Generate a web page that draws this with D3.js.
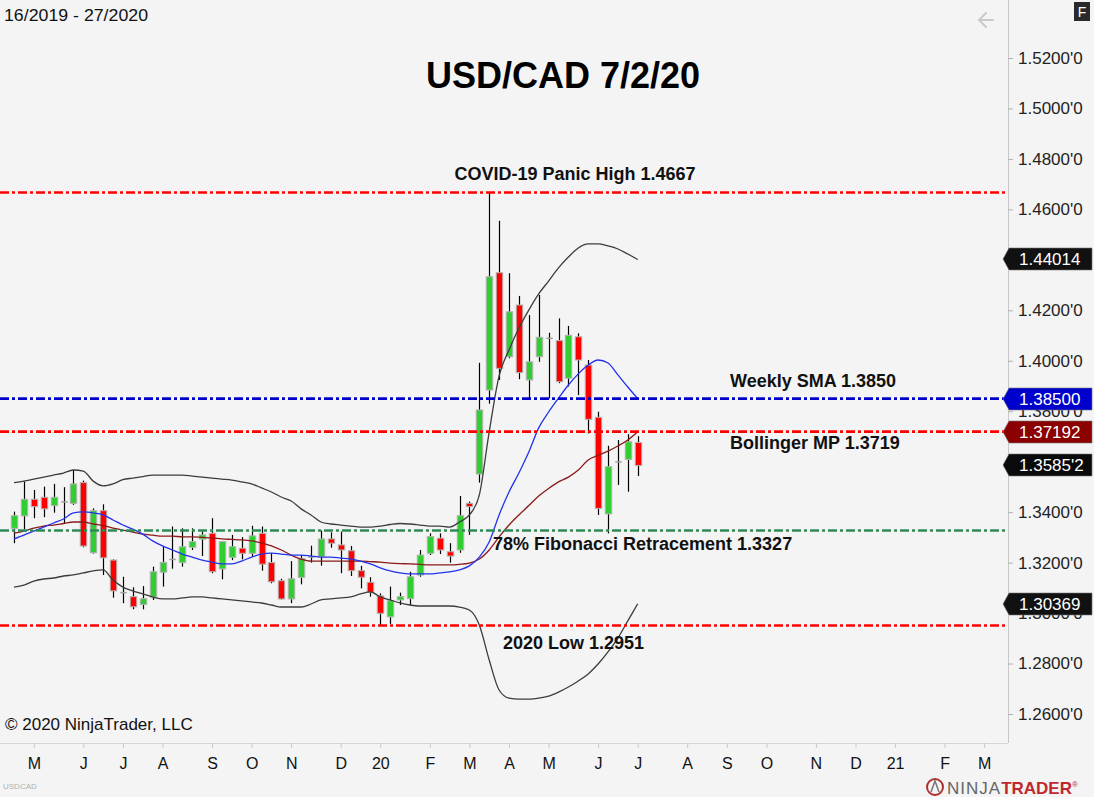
<!DOCTYPE html>
<html>
<head>
<meta charset="utf-8">
<script src="https://cdn.jsdelivr.net/npm/d3@7"></script>
<style>
  html, body { margin: 0; padding: 0; background: #f4f4f4; }
  svg { display: block; font-family: "Liberation Sans", Arial, sans-serif; }
</style>
</head>
<body>
<svg id="chart" width="1094" height="797"></svg>
<script>
// ---------- DATA (weekly USD/CAD, week 16/2019 - week 27/2020) ----------
const open  = [1.3336,1.3385,1.3451,1.3459,1.3426,1.3441,1.3435,1.3517,1.3239,1.3406,1.3210,1.3082,1.3065,1.3034,1.3063,1.3162,1.3212,1.3200,1.3261,1.3293,1.3316,1.3175,1.3221,1.3257,1.3237,1.3316,1.3200,1.3128,1.3056,1.3141,1.3221,1.3223,1.3294,1.3270,1.3247,1.3168,1.3122,1.3068,1.2985,1.3052,1.3057,1.3151,1.3237,1.3297,1.3243,1.3250,1.3435,1.3551,1.3884,1.4349,1.4016,1.4221,1.3924,1.4016,1.4090,1.4080,1.3931,1.4095,1.3983,1.3776,1.3393,1.3598,1.3609,1.3676];
const high  = [1.3402,1.3521,1.3488,1.3501,1.3512,1.3499,1.3567,1.3525,1.3415,1.3431,1.3213,1.3144,1.3102,1.3107,1.3184,1.3266,1.3343,1.3336,1.3336,1.3323,1.3376,1.3283,1.3310,1.3301,1.3346,1.3343,1.3237,1.3136,1.3206,1.3230,1.3267,1.3327,1.3320,1.3323,1.3266,1.3187,1.3142,1.3078,1.3105,1.3081,1.3164,1.3250,1.3316,1.3316,1.3277,1.3464,1.3442,1.3992,1.4667,1.4555,1.4347,1.4257,1.4181,1.4261,1.4111,1.4168,1.4138,1.4109,1.4003,1.3798,1.3663,1.3686,1.3709,1.3701];
const low   = [1.3277,1.3332,1.3376,1.3380,1.3398,1.3356,1.3429,1.3261,1.3236,1.3151,1.3061,1.3039,1.3015,1.3015,1.3052,1.3105,1.3176,1.3184,1.3250,1.3226,1.3158,1.3134,1.3210,1.3213,1.3223,1.3168,1.3118,1.3054,1.3039,1.3114,1.3200,1.3188,1.3259,1.3158,1.3147,1.3098,1.3065,1.2951,1.2957,1.3032,1.3032,1.3144,1.3230,1.3234,1.3200,1.3239,1.3310,1.3517,1.3830,1.3924,1.4010,1.3927,1.3851,1.3996,1.3851,1.3911,1.3898,1.3864,1.3712,1.3389,1.3316,1.3508,1.3481,1.3543];
const close = [1.3386,1.3451,1.3422,1.3413,1.3459,1.3440,1.3512,1.3266,1.3406,1.3219,1.3088,1.3080,1.3025,1.3057,1.3164,1.3201,1.3213,1.3263,1.3283,1.3310,1.3164,1.3283,1.3263,1.3237,1.3306,1.3194,1.3124,1.3056,1.3136,1.3217,1.3223,1.3294,1.3277,1.3250,1.3168,1.3142,1.3082,1.2999,1.3049,1.3065,1.3144,1.3230,1.3303,1.3250,1.3226,1.3386,1.3422,1.3805,1.4333,1.3970,1.4194,1.3953,1.3996,1.4093,1.4088,1.3917,1.4101,1.4003,1.3768,1.3415,1.3580,1.3600,1.3679,1.3585];

// Bollinger bands and weekly SMA
const bbUpper = [1.3517,1.3523,1.3531,1.3539,1.3547,1.3555,1.3567,1.3563,1.3523,1.3504,1.3512,1.3529,1.3535,1.3541,1.3547,1.3547,1.3547,1.3547,1.3543,1.3539,1.3535,1.3531,1.3527,1.3520,1.3512,1.3496,1.3480,1.3460,1.3444,1.3413,1.3389,1.3361,1.3353,1.3349,1.3345,1.3341,1.3341,1.3345,1.3351,1.3355,1.3353,1.3349,1.3345,1.3345,1.3341,1.3361,1.3389,1.3468,1.3718,1.3940,1.4043,1.4130,1.4201,1.4265,1.4316,1.4368,1.4411,1.4447,1.4463,1.4463,1.4455,1.4443,1.4423,1.4401];
const bbMid   = [1.3317,1.3325,1.3337,1.3345,1.3349,1.3355,1.3361,1.3361,1.3353,1.3347,1.3337,1.3329,1.3321,1.3313,1.3309,1.3305,1.3305,1.3302,1.3302,1.3300,1.3298,1.3294,1.3292,1.3290,1.3286,1.3278,1.3266,1.3250,1.3230,1.3214,1.3206,1.3206,1.3206,1.3206,1.3206,1.3206,1.3204,1.3202,1.3198,1.3196,1.3195,1.3193,1.3191,1.3191,1.3191,1.3193,1.3198,1.3214,1.3250,1.3302,1.3349,1.3389,1.3426,1.3464,1.3494,1.3520,1.3539,1.3567,1.3607,1.3625,1.3642,1.3662,1.3686,1.3719];
const bbLower = [1.3103,1.3111,1.3127,1.3135,1.3139,1.3147,1.3151,1.3159,1.3167,1.3171,1.3131,1.3103,1.3088,1.3076,1.3064,1.3056,1.3056,1.3060,1.3064,1.3064,1.3060,1.3056,1.3052,1.3048,1.3044,1.3040,1.3032,1.3024,1.3024,1.3024,1.3036,1.3052,1.3056,1.3060,1.3064,1.3076,1.3084,1.3064,1.3052,1.3040,1.3032,1.3028,1.3028,1.3028,1.3028,1.3024,1.3012,1.2953,1.2814,1.2695,1.2663,1.2659,1.2659,1.2663,1.2671,1.2687,1.2707,1.2731,1.2759,1.2798,1.2846,1.2901,1.2969,1.3037];
const sma     = [1.3294,1.3309,1.3325,1.3341,1.3357,1.3373,1.3397,1.3401,1.3397,1.3389,1.3369,1.3349,1.3333,1.3313,1.3286,1.3266,1.3250,1.3234,1.3222,1.3210,1.3202,1.3195,1.3195,1.3206,1.3222,1.3234,1.3238,1.3234,1.3230,1.3230,1.3226,1.3222,1.3222,1.3218,1.3214,1.3206,1.3195,1.3179,1.3167,1.3159,1.3155,1.3155,1.3155,1.3159,1.3163,1.3171,1.3187,1.3222,1.3282,1.3389,1.3480,1.3555,1.3638,1.3734,1.3797,1.3852,1.3904,1.3948,1.3983,1.4003,1.3991,1.3944,1.3896,1.3850];

// Horizontal annotation levels
const levelValues = [1.4667, 1.3850, 1.3719, 1.3327, 1.2951];
const levelNames  = ["COVID-19 Panic High 1.4667", "Weekly SMA 1.3850", "Bollinger MP 1.3719", "78% Fibonacci Retracement 1.3327", "2020 Low 1.2951"];
const levelColors = ["#ff0000", "#0000cd", "#ff0000", "#2e8b57", "#ff0000"];

// Axis ticks (labels of 1.44 and 1.36 are fully covered by price tags in the original)
const yTickValues = [1.26,1.28,1.30,1.32,1.34,1.36,1.38,1.40,1.42,1.44,1.46,1.48,1.50,1.52];
const yHiddenLabels = [1.44, 1.36];
const monthLabels = ["M","J","J","A","S","O","N","D","20","F","M","A","M","J","J","A","S","O","N","D","21","F","M"];

// Right-side price tags
const tagValues = [1.44014, 1.38500, 1.37192, 1.35852, 1.30369];
const tagLabels = ["1.44014", "1.38500", "1.37192", "1.3585'2", "1.30369"];
const tagColors = ["#111111", "#0000cd", "#8b0000", "#0a0a0a", "#111111"];

// ---------- DRAW ----------
const svg = d3.select("#chart");
const W = 1094, H = 797;
const plotRight = 1008, plotBottom = 743;

svg.append("rect").attr("width", W).attr("height", H).attr("fill", "#f4f4f4");

const firstWeek = new Date(2019, 3, 19);
const lastWeek = new Date(2020, 6, 3);
const dates = open.map((_, i) => d3.timeDay.offset(firstWeek, 7 * i));

const x = d3.scaleTime().domain([firstWeek, lastWeek]).range([14, 637.7]);
const y = d3.scaleLinear().domain([1.26, 1.52]).range([714, 58]);

// axes frame
svg.append("line").attr("x1", plotRight + 0.5).attr("x2", plotRight + 0.5)
  .attr("y1", 0).attr("y2", plotBottom).attr("stroke", "#c8c8c8");
svg.append("line").attr("x1", 0).attr("x2", plotRight).attr("y1", plotBottom + 0.5).attr("y2", plotBottom + 0.5)
  .attr("stroke", "#d6d6d6");

// Y axis
const yAxis = d3.axisRight(y).tickValues(yTickValues).tickSize(5).tickPadding(5)
  .tickFormat(v => yHiddenLabels.some(h => Math.abs(h - v) < 1e-9) ? "" : d3.format(".4f")(v) + "'0");
const gy = svg.append("g").attr("transform", `translate(${plotRight},0)`).call(yAxis);
gy.select(".domain").remove();
gy.selectAll(".tick line").attr("stroke", "#b0b0b0");
gy.selectAll(".tick text").attr("fill", "#222").attr("font-size", 17)
  .attr("font-family", "'Liberation Sans', Arial, sans-serif");

// X axis (month ticks at first weekly bar of each month)
const monthStarts = d3.timeMonth.range(new Date(2019, 4, 1), new Date(2021, 3, 1));
const tickDates = monthStarts.map(d => d3.timeFriday.ceil(d));
const xAxis = d3.axisBottom(x).tickValues(tickDates).tickSize(5).tickPadding(10)
  .tickFormat((d, i) => monthLabels[i]);
const gx = svg.append("g").attr("transform", `translate(0,${plotBottom})`).call(xAxis);
gx.select(".domain").remove();
gx.selectAll(".tick line").attr("stroke", "#c8c8c8");
gx.selectAll(".tick text").attr("fill", "#111").attr("font-size", 16)
  .attr("font-family", "'Liberation Sans', Arial, sans-serif");

// Candles
const bodyW = 6.5;
const cg = svg.append("g");
open.forEach((o, i) => {
  const c = close[i];
  const cx = Math.round(x(dates[i])) + 0.5;
  cg.append("line").attr("x1", cx).attr("x2", cx)
    .attr("y1", y(high[i])).attr("y2", y(low[i]))
    .attr("stroke", "#000").attr("stroke-width", 1.2);
  const top = y(Math.max(o, c)), bot = y(Math.min(o, c));
  if (bot - top < 1.5) {
    cg.append("line").attr("x1", cx - bodyW / 2).attr("x2", cx + bodyW / 2)
      .attr("y1", (top + bot) / 2).attr("y2", (top + bot) / 2)
      .attr("stroke", "#a0a0a0").attr("stroke-width", 1.5);
  } else {
    cg.append("rect").attr("x", cx - bodyW / 2).attr("y", top)
      .attr("width", bodyW).attr("height", bot - top)
      .attr("fill", c >= o ? "#32cd32" : "#ff0000")
      .attr("stroke", "#b4b4b4").attr("stroke-width", 1);
  }
});

// Indicator lines
const line = arr => d3.line().x((d, i) => x(dates[i])).y(d => y(d)).curve(d3.curveMonotoneX)(arr);
svg.append("path").attr("d", line(bbUpper)).attr("fill", "none").attr("stroke", "#3c3c3c").attr("stroke-width", 1.3);
svg.append("path").attr("d", line(bbLower)).attr("fill", "none").attr("stroke", "#3c3c3c").attr("stroke-width", 1.3);
svg.append("path").attr("d", line(bbMid)).attr("fill", "none").attr("stroke", "#8b1a1a").attr("stroke-width", 1.3);
svg.append("path").attr("d", line(sma)).attr("fill", "none").attr("stroke", "#2233ee").attr("stroke-width", 1.3);

// Horizontal levels
levelValues.forEach((v, i) => {
  svg.append("line").attr("x1", 0).attr("x2", plotRight)
    .attr("y1", y(v)).attr("y2", y(v))
    .attr("stroke", levelColors[i]).attr("stroke-width", 2.6)
    .attr("stroke-dasharray", "9,3,3,3");
});

// Level labels
const labelPos = [
  { x: 575, y: 180, anchor: "middle" },
  { x: 730, y: 387, anchor: "start" },
  { x: 730, y: 449, anchor: "start" },
  { x: 493, y: 550, anchor: "start" },
  { x: 503, y: 649, anchor: "start" }
];
levelNames.forEach((t, i) => {
  svg.append("text").attr("x", labelPos[i].x).attr("y", labelPos[i].y)
    .attr("text-anchor", labelPos[i].anchor)
    .attr("font-size", 18).attr("font-weight", "bold").attr("fill", "#111").text(t);
});

// Title
svg.append("text").attr("x", 563).attr("y", 88).attr("text-anchor", "middle")
  .attr("font-size", 36).attr("font-weight", "bold").attr("fill", "#000").text("USD/CAD 7/2/20");

// Price tags
tagValues.forEach((v, i) => {
  const cy = Math.round(y(v));
  const h = 22;
  const p = `M1003,${cy} L1009,${cy - h / 2} L1092,${cy - h / 2} L1092,${cy + h / 2} L1009,${cy + h / 2} Z`;
  svg.append("path").attr("d", p).attr("fill", tagColors[i]).attr("stroke", "#777").attr("stroke-width", 0.6);
  svg.append("text").attr("x", 1019).attr("y", cy + 6).attr("fill", "#fff")
    .attr("font-size", 17).text(tagLabels[i]);
});

// Header texts
svg.append("text").attr("x", 4).attr("y", 21).attr("font-size", 17).attr("fill", "#111")
  .attr("textLength", 144).attr("lengthAdjust", "spacingAndGlyphs").text("16/2019 - 27/2020");
// back arrow icon
svg.append("path").attr("d", "M993,20 L979,20 M986,13 L979,20 L986,27")
  .attr("fill", "none").attr("stroke", "#cacaca").attr("stroke-width", 2).attr("stroke-linecap", "round");
svg.append("rect").attr("x", 1074).attr("y", 2).attr("width", 16).attr("height", 19).attr("fill", "#2a2a2a");
svg.append("text").attr("x", 1082).attr("y", 17).attr("text-anchor", "middle")
  .attr("font-size", 14).attr("fill", "#fff").text("F");

// Footer texts
svg.append("text").attr("x", 5).attr("y", 730).attr("font-size", 17).attr("fill", "#111")
  .text("© 2020 NinjaTrader, LLC");
svg.append("text").attr("x", 3).attr("y", 789).attr("font-size", 8).attr("fill", "#b0b0b0").text("USDCAD");

// NinjaTrader logo
const logo = svg.append("g").attr("transform", "translate(926,778)");
logo.append("circle").attr("cx", 9).attr("cy", 9).attr("r", 8).attr("fill", "none").attr("stroke", "#b03030").attr("stroke-width", 2);
logo.append("path").attr("d", "M5,14 L9,3 L13,14").attr("fill", "none").attr("stroke", "#777").attr("stroke-width", 1.5);
const lt = logo.append("text").attr("x", 21).attr("y", 16).attr("font-size", 17);
lt.append("tspan").attr("fill", "#666").attr("letter-spacing", 1).text("NINJA");
lt.append("tspan").attr("fill", "#c0282d").attr("font-weight", "bold").text("TRADER");
lt.append("tspan").attr("fill", "#c0282d").attr("font-size", 8).attr("dy", -7).text("®");
</script>
</body>
</html>
